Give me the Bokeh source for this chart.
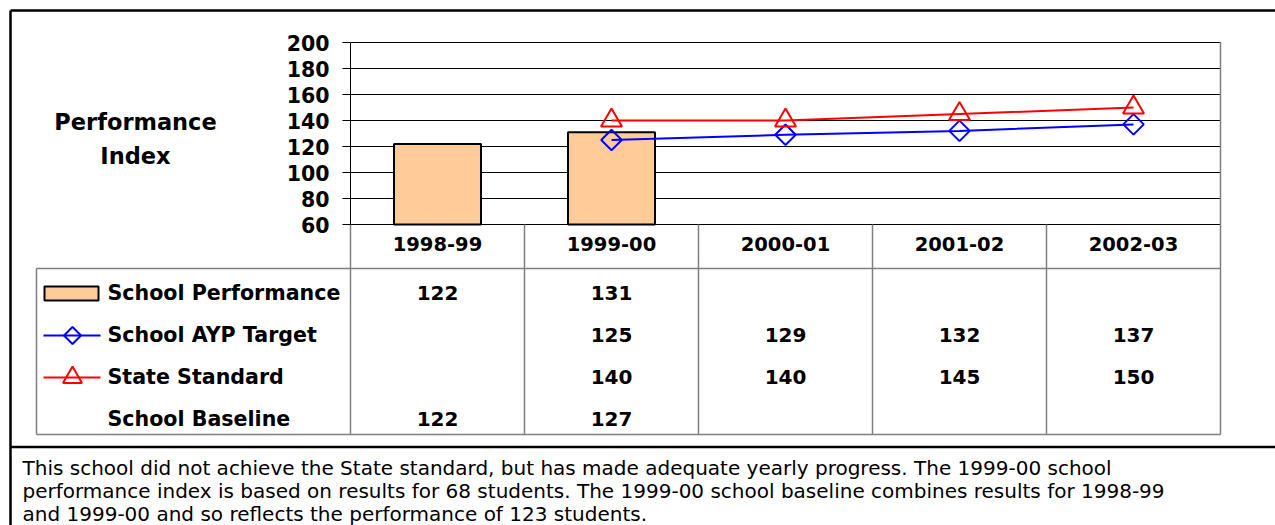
import math
from bokeh.plotting import figure
from bokeh.models import Range1d, LinearAxis, FixedTicker
from bokeh.core.properties import value
from bokeh.embed import file_html
from bokeh.resources import INLINE

# ---------------- data ----------------
years = ["1998-99", "1999-00", "2000-01", "2001-02", "2002-03"]
school_performance = [122, 131, None, None, None]
school_ayp_target = [None, 125, 129, 132, 137]
state_standard = [None, 140, 140, 145, 150]
school_baseline = [122, 127, None, None, None]
y_ticks = [60, 80, 100, 120, 140, 160, 180, 200]
row_labels = ["School Performance", "School AYP Target", "State Standard", "School Baseline"]
axis_title = ["Performance", "Index"]
footnote_lines = [
    "This school did not achieve the State standard, but has made adequate yearly progress. The 1999-00 school",
    "performance index is based on results for 68 students. The 1999-00 school baseline combines results for 1998-99",
    "and 1999-00 and so reflects the performance of 123 students.",
]

# ---------------- layout (page pixels) ----------------
W, H = 1275, 525
OFF = 0
X_AXIS_PX, X_END_PX = 350, 1220
Y_TOP_PX, Y_BOT_PX = 42, 224
FONT = "DejaVu Sans"
BAR_FILL = "#FFCC99"
TABLE_LINE = "#808080"

ncat = len(years)
ymin, ymax = min(y_ticks), max(y_ticks)
col_px = (X_END_PX - X_AXIS_PX) / ncat
unit_px = (Y_BOT_PX - Y_TOP_PX) / (ymax - ymin)


def gx(px):
    return (px - X_AXIS_PX) / col_px


def gy(py):
    return ymin + (Y_BOT_PX - py) / unit_px


p = figure(width=W, height=H,
           x_range=Range1d(gx(OFF), gx(OFF + W)),
           y_range=Range1d(gy(OFF + H), gy(OFF)),
           x_axis_type=None, y_axis_type=None,
           output_backend="svg", toolbar_location=None,
           min_border=0, outline_line_color=None,
           background_fill_color="white", border_fill_color="white")

# ---------------- gridlines ----------------
p.segment(x0=[0] * len(y_ticks), x1=[ncat] * len(y_ticks), y0=y_ticks, y1=y_ticks,
          line_color="black", line_width=1)

# ---------------- table lines ----------------
t_top, t_bot, t_left = gy(268), gy(434), gx(36)
p.segment(x0=[t_left, t_left], x1=[ncat, ncat], y0=[t_top, t_bot], y1=[t_top, t_bot],
          line_color=TABLE_LINE, line_width=1.5)
p.segment(x0=[t_left], x1=[t_left], y0=[t_top], y1=[t_bot],
          line_color=TABLE_LINE, line_width=1.5)
bounds_x = list(range(ncat + 1))
p.segment(x0=bounds_x, x1=bounds_x, y0=[t_bot] * len(bounds_x),
          y1=[ymin] * ncat + [ymax],
          line_color=TABLE_LINE, line_width=1.5)

# ---------------- outer frame ----------------
fx0, fy0, fy1, fx1 = gx(10), gy(10), gy(OFF + H), gx(OFF + W)
div_y = gy(446.5)
p.segment(x0=[fx0, fx0, fx0], x1=[fx0, fx1, fx1], y0=[fy0, fy0, div_y], y1=[fy1, fy0, div_y],
          line_color="black", line_width=2.5)

# ---------------- bars ----------------
bx = [i + 0.5 for i, v in enumerate(school_performance) if v is not None]
bt = [v for v in school_performance if v is not None]
p.vbar(x=bx, top=bt, bottom=ymin, width=0.5, fill_color=BAR_FILL,
       line_color="black", line_width=2)

# ---------------- lines ----------------
ax = [i + 0.5 for i, v in enumerate(school_ayp_target) if v is not None]
ay = [v for v in school_ayp_target if v is not None]
sx = [i + 0.5 for i, v in enumerate(state_standard) if v is not None]
sy = [v for v in state_standard if v is not None]
p.line(ax, ay, line_color="#0000FF", line_width=2)
p.line(sx, sy, line_color="#FF0000", line_width=2)
p.scatter(ax, ay, marker="square", angle=math.pi / 4, size=14.5,
          fill_color=None, line_color="#0000FF", line_width=2)
p.scatter(sx, sy, marker="triangle", size=21, fill_color=None,
          line_color="#FF0000", line_width=2)

# ---------------- axes ----------------
yaxis = LinearAxis(ticker=FixedTicker(ticks=y_ticks), fixed_location=0, bounds=(ymin, ymax),
                   major_tick_out=8, major_tick_in=0, minor_tick_out=0, minor_tick_in=0,
                   axis_line_color="black", axis_line_width=1, major_tick_line_color="black",
                   major_label_standoff=13,
                   major_label_text_font=FONT, major_label_text_font_style="bold",
                   major_label_text_font_size="20.5px", major_label_text_color="black")
p.add_layout(yaxis, "left")

xaxis = LinearAxis(ticker=FixedTicker(ticks=[i + 0.5 for i in range(ncat)]), fixed_location=ymin,
                   major_label_overrides={i + 0.5: years[i] for i in range(ncat)},
                   axis_line_color=None, major_tick_out=0, major_tick_in=0,
                   minor_tick_out=0, minor_tick_in=0, major_label_standoff=12,
                   major_label_text_font=FONT, major_label_text_font_style="bold",
                   major_label_text_font_size="19.5px", major_label_text_color="black")
p.add_layout(xaxis, "below")

# ---------------- axis title ----------------
p.text(x=[gx(135)] * 2, y=[gy(121), gy(155)], text=axis_title,
       text_font=value(FONT), text_font_style="bold", text_font_size=value("22.5px"),
       text_align="center", text_baseline="middle", text_color="black")

# ---------------- data table ----------------
row_px = [292, 334, 376, 418]
series = [school_performance, school_ayp_target, state_standard, school_baseline]
p.text(x=[gx(107)] * len(row_labels), y=[gy(r) for r in row_px], text=row_labels,
       text_font=value(FONT), text_font_style="bold", text_font_size=value("20.6px"),
       text_align="left", text_baseline="middle", text_color="black")
vx, vy, vt = [], [], []
for r, s in enumerate(series):
    for i, v in enumerate(s):
        if v is not None:
            vx.append(i + 0.5)
            vy.append(gy(row_px[r]))
            vt.append(str(v))
p.text(x=vx, y=vy, text=vt,
       text_font=value(FONT), text_font_style="bold", text_font_size=value("20px"),
       text_align="center", text_baseline="middle", text_color="black")

# legend keys inside the table
p.quad(left=[gx(44)], right=[gx(98)], top=[gy(286)], bottom=[gy(300)],
       fill_color=BAR_FILL, line_color="black", line_width=2)
lk_x0, lk_x1, lk_xc = gx(43), gx(100), gx(72)
p.line([lk_x0, lk_x1], [gy(335)] * 2, line_color="#0000FF", line_width=2)
p.scatter([lk_xc], [gy(335)], marker="square", angle=math.pi / 4, size=12,
          fill_color=None, line_color="#0000FF", line_width=2)
p.line([lk_x0, lk_x1], [gy(377)] * 2, line_color="#FF0000", line_width=2)
p.scatter([lk_xc], [gy(377)], marker="triangle", size=19, fill_color=None,
          line_color="#FF0000", line_width=2)

# ---------------- footnote ----------------
p.text(x=[gx(22)] * len(footnote_lines), y=[gy(467), gy(490), gy(513)], text=footnote_lines,
       text_font=value(FONT), text_font_size=value("20px"),
       text_align="left", text_baseline="alphabetic", text_color="black")

open("out.html", "w").write(file_html(p, INLINE))
